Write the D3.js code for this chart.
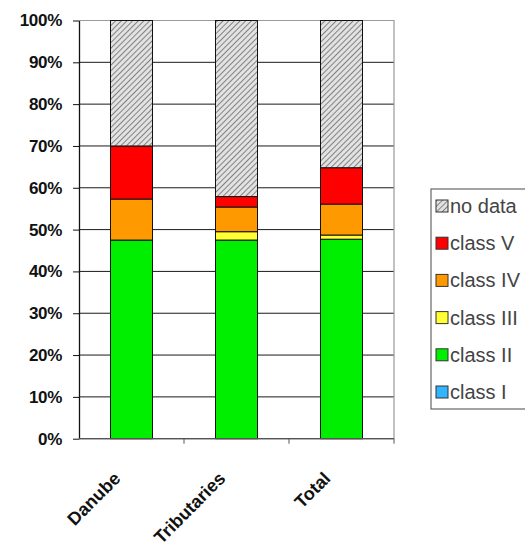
<!DOCTYPE html>
<html>
<head>
<meta charset="utf-8">
<script src="https://cdn.jsdelivr.net/npm/d3@7"></script>
<style>
  html, body { margin: 0; padding: 0; background: #fff; }
  svg { display: block; }
</style>
</head>
<body>
<svg id="chart" width="525" height="557"></svg>
<script>
// Water quality class shares (percent of river length) per river group
const categories = ["Danube", "Tributaries", "Total"];
const classI   = [0, 0, 0];
const classII  = [47.5, 47.5, 47.7];
const classIII = [0, 2.0, 1.0];
const classIV  = [9.8, 5.9, 7.4];
const classV   = [12.7, 2.5, 8.7];
const noData   = [30.0, 42.1, 35.2];

const seriesNames = ["class I", "class II", "class III", "class IV", "class V", "no data"];
const seriesValues = [classI, classII, classIII, classIV, classV, noData];
const yTicks = [0, 10, 20, 30, 40, 50, 60, 70, 80, 90, 100];

const colors = {
  "class I": "#33b4ff",
  "class II": "#00ee00",
  "class III": "#ffff33",
  "class IV": "#ff9900",
  "class V": "#ff0000",
  "no data": "url(#hatch)"
};

const svg = d3.select("#chart");
const defs = svg.append("defs");
const pat = defs.append("pattern")
  .attr("id", "hatch")
  .attr("patternUnits", "userSpaceOnUse")
  .attr("width", 4).attr("height", 4)
  .attr("patternTransform", "rotate(45)");
pat.append("rect").attr("width", 4).attr("height", 4).attr("fill", "#e2e2e2");
pat.append("line").attr("x1", 0).attr("y1", 0).attr("x2", 0).attr("y2", 4)
  .attr("stroke", "#6a6a6a").attr("stroke-width", 1.6);

const plot = { left: 79, right: 394, top: 20.5, bottom: 438.7 };

const x = d3.scaleBand().domain(categories).range([plot.left, plot.right]).paddingInner(0.6).paddingOuter(0.3);
const xOuter = d3.scaleBand().domain(categories).range([plot.left, plot.right]);
const y = d3.scaleLinear().domain([0, 100]).range([plot.bottom, plot.top]);

// table of rows for the stack layout
const table = categories.map((c, i) => {
  const row = { category: c };
  seriesNames.forEach((s, k) => { row[s] = seriesValues[k][i]; });
  return row;
});
const stacked = d3.stack().keys(seriesNames)(table);

// gridlines
svg.append("g").selectAll("line")
  .data(yTicks.filter(t => t < 100))
  .join("line")
  .attr("x1", plot.left).attr("x2", plot.right)
  .attr("y1", d => y(d)).attr("y2", d => y(d))
  .attr("stroke", "#1a1a1a").attr("stroke-width", 1);

// plot-area frame (top and right)
svg.append("path")
  .attr("d", `M${plot.left},${y(100)}H${plot.right}V${plot.bottom}`)
  .attr("fill", "none").attr("stroke", "#9a9a9a").attr("stroke-width", 1.2);

// bars
svg.append("g").selectAll("g")
  .data(stacked)
  .join("g")
  .attr("fill", d => colors[d.key])
  .selectAll("rect")
  .data(d => d.filter(p => p[1] - p[0] > 0))
  .join("rect")
  .attr("x", d => x(d.data.category))
  .attr("width", x.bandwidth())
  .attr("y", d => y(d[1]))
  .attr("height", d => y(d[0]) - y(d[1]))
  .attr("stroke", "#111").attr("stroke-width", 1);

// y axis
const yAxis = svg.append("g")
  .attr("transform", `translate(${plot.left},0)`)
  .call(d3.axisLeft(y).tickValues(yTicks).tickFormat(d => d + "%").tickSize(6).tickSizeOuter(0));
yAxis.select(".domain").attr("stroke", "#111").attr("stroke-width", 1.3);
yAxis.selectAll(".tick line").attr("stroke", "#111");
yAxis.selectAll("text")
  .attr("x", -17)
  .attr("fill", "#111")
  .style("font-family", "'Liberation Sans', Arial, sans-serif")
  .style("font-size", "17px")
  .style("font-weight", "bold")
  .style("letter-spacing", "-0.3px");

// x axis: ticks sit between categories
const xAxisG = svg.append("g").attr("transform", `translate(0,${plot.bottom})`);
xAxisG.append("line")
  .attr("x1", plot.left).attr("x2", plot.right)
  .attr("stroke", "#555").attr("stroke-width", 1.3);
xAxisG.selectAll("line.sep")
  .data(categories.slice(1))
  .join("line").attr("class", "sep")
  .attr("x1", d => xOuter(d)).attr("x2", d => xOuter(d))
  .attr("y1", 0).attr("y2", 5)
  .attr("stroke", "#555");
xAxisG.append("line")
  .attr("x1", plot.right).attr("x2", plot.right).attr("y1", 0).attr("y2", 5)
  .attr("stroke", "#555");
xAxisG.selectAll("text")
  .data(categories)
  .join("text")
  .attr("transform", d => `translate(${x(d) + x.bandwidth() / 2 - 10},41) rotate(-45)`)
  .attr("text-anchor", "end")
  .attr("fill", "#111")
  .style("font-family", "'Liberation Sans', Arial, sans-serif")
  .style("font-size", "18px")
  .style("font-weight", "bold")
  .text(d => d);

// legend
const legendOrder = seriesNames.slice().reverse();
const legend = svg.append("g");
legend.append("rect")
  .attr("x", 431).attr("y", 189).attr("width", 110).attr("height", 220)
  .attr("fill", "#fff").attr("stroke", "#666").attr("stroke-width", 1.2);
const ly = d3.scalePoint().domain(legendOrder).range([206, 392]);
const items = legend.selectAll("g.item")
  .data(legendOrder)
  .join("g").attr("class", "item")
  .attr("transform", d => `translate(436,${ly(d)})`);
items.append("rect")
  .attr("x", 0).attr("y", -6).attr("width", 12).attr("height", 12)
  .attr("fill", d => colors[d])
  .attr("stroke", "#333").attr("stroke-width", 1);
items.append("text")
  .attr("x", 14).attr("y", 7)
  .attr("fill", "#444")
  .style("font-family", "'Liberation Sans', Arial, sans-serif")
  .style("font-size", "20px")
  .text(d => d);
</script>
</body>
</html>
